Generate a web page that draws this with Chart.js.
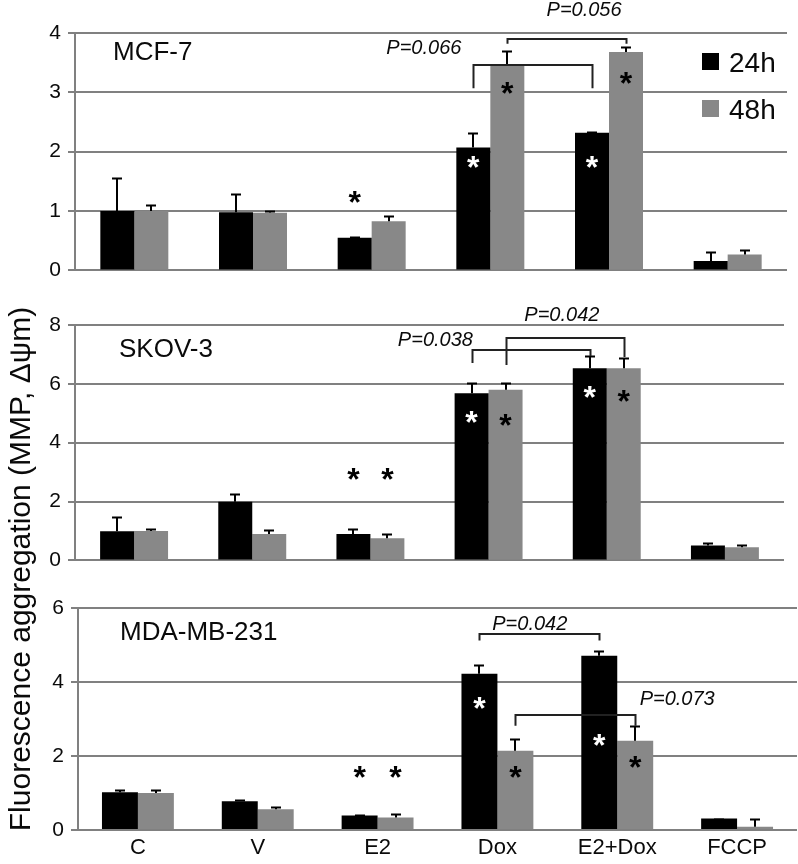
<!DOCTYPE html>
<html>
<head>
<meta charset="utf-8">
<script src="https://cdn.jsdelivr.net/npm/chart.js@4.4.1/dist/chart.umd.min.js"></script>
<style>
  html, body { margin: 0; padding: 0; background: #fff; }
  #wrap { position: relative; width: 798px; height: 864px; overflow: hidden; }
  canvas { position: absolute; left: 0; }
  #ytitle {
    position: absolute; left: -280px; top: 552px; width: 600px; height: 34px;
    line-height: 34px; text-align: center; transform: rotate(-90deg);
    font: 30px "Liberation Sans", Arial, sans-serif; color: #0a0a0a; white-space: nowrap;
  }
</style>
</head>
<body>
<div id="wrap">
  <canvas id="c1" width="798" height="290" style="top:0px"></canvas>
  <canvas id="c2" width="798" height="290" style="top:290px"></canvas>
  <canvas id="c3" width="798" height="284" style="top:580px"></canvas>
  <div id="ytitle">Fluorescence aggregation (MMP, Δψm)</div>
</div>
<script>
// categorias e séries
const categorias = ['C', 'V', 'E2', 'Dox', 'E2+Dox', 'FCCP'];
const series = ['24h', '48h'];

// MCF-7
const mcf7_24h = [1.00, 0.98, 0.55, 2.07, 2.32, 0.16];
const mcf7_24hErr = [1.55, 1.29, 0.57, 2.32, 2.33, 0.31];
const mcf7_48h = [1.00, 0.97, 0.83, 3.47, 3.68, 0.27];
const mcf7_48hErr = [1.11, 1.00, 0.91, 3.69, 3.76, 0.34];

// SKOV-3
const skov3_24h = [0.99, 1.99, 0.90, 5.68, 6.53, 0.51];
const skov3_24hErr = [1.47, 2.25, 1.07, 6.02, 6.93, 0.60];
const skov3_48h = [1.00, 0.90, 0.75, 5.80, 6.53, 0.45];
const skov3_48hErr = [1.07, 1.03, 0.90, 6.02, 6.87, 0.53];

// MDA-MB-231
const mda_24h = [1.02, 0.78, 0.39, 4.22, 4.71, 0.31];
const mda_24hErr = [1.08, 0.82, 0.40, 4.45, 4.83, 0.31];
const mda_48h = [1.00, 0.56, 0.34, 2.14, 2.41, 0.09];
const mda_48hErr = [1.08, 0.61, 0.42, 2.45, 2.81, 0.29];

// ticks
const ticksMcf7 = [0, 1, 2, 3, 4];
const ticksSkov3 = [0, 2, 4, 6, 8];
const ticksMda = [0, 2, 4, 6];

// asteriscos: [categoria, série, altura, cor]
const starsMcf7 = [[2, 0, 1.23, 'k'], [3, 0, 1.82, 'w'], [3, 1, 3.07, 'k'], [4, 0, 1.82, 'w'], [4, 1, 3.25, 'k']];
const starsSkov3 = [[2, 0, 2.92, 'k'], [2, 1, 2.92, 'k'], [3, 0, 4.88, 'w'], [3, 1, 4.78, 'k'], [4, 0, 5.73, 'w'], [4, 1, 5.59, 'k']];
const starsMda = [[2, 0, 1.58, 'k'], [2, 1, 1.58, 'k'], [3, 0, 3.42, 'w'], [3, 1, 1.58, 'k'], [4, 0, 2.43, 'w'], [4, 1, 1.85, 'k']];

// comparações (P): de [cat, série], até [cat, série], topo, pernas
const pMcf7 = [
  { text: 'P=0.066', from: [3, 0], to: [4, 0], top: 3.455, legL: 3.07, legR: 3.07, at: [2.44, 3.77] },
  { text: 'P=0.056', from: [3, 1], to: [4, 1], top: 3.90, legL: 3.82, legR: 3.82, at: [3.79, 4.40] }
];
const pSkov3 = [
  { text: 'P=0.038', from: [3, 0], to: [4, 0], top: 7.15, legL: 6.71, legR: 6.95, at: [2.55, 7.53] },
  { text: 'P=0.042', from: [3, 1], to: [4, 1], top: 7.57, legL: 6.64, legR: 6.91, at: [3.62, 8.37] }
];
const pMda = [
  { text: 'P=0.042', from: [3, 0], to: [4, 0], top: 5.29, legL: 5.12, legR: 5.12, at: [3.27, 5.59] },
  { text: 'P=0.073', from: [3, 1], to: [4, 1], top: 3.11, legL: 2.82, legR: 2.82, at: [4.50, 3.57] }
];

const FONT = '"Liberation Sans", Arial, sans-serif';
Chart.defaults.font.family = FONT;
Chart.defaults.color = '#0a0a0a';

const corPreto = '#000000';
const corCinza = '#888888';
const corGrade = '#808080';

// erros, asteriscos, colchetes, título e legenda
const anotacoes = {
  id: 'anotacoes',
  afterDatasetsDraw(chart, args, o) {
    const ctx = chart.ctx;
    const ys = chart.scales.y, xs = chart.scales.x;
    const barX = (c, d) => chart.getDatasetMeta(d).data[c].x;
    ctx.save();

    // barras de erro
    ctx.strokeStyle = '#000';
    ctx.lineWidth = 2;
    o.errors.forEach((errs, d) => {
      errs.forEach((e, i) => {
        const x0 = Math.round(barX(i, d));
        const yTop = ys.getPixelForValue(chart.data.datasets[d].data[i]);
        const yErr = Math.round(ys.getPixelForValue(e)) + 0.5;
        ctx.beginPath();
        ctx.moveTo(x0, yTop);
        ctx.lineTo(x0, yErr);
        ctx.moveTo(x0 - 5, yErr);
        ctx.lineTo(x0 + 5, yErr);
        ctx.stroke();
      });
    });

    // colchetes
    ctx.strokeStyle = '#222';
    ctx.lineWidth = 2;
    o.pvals.forEach(p => {
      const xl = Math.round(barX(p.from[0], p.from[1])) + 0.5;
      const xr = Math.round(barX(p.to[0], p.to[1])) + 0.5;
      const yt = Math.round(ys.getPixelForValue(p.top));
      ctx.beginPath();
      ctx.moveTo(xl, ys.getPixelForValue(p.legL));
      ctx.lineTo(xl, yt);
      ctx.lineTo(xr, yt);
      ctx.lineTo(xr, ys.getPixelForValue(p.legR));
      ctx.stroke();
    });
    ctx.fillStyle = '#0a0a0a';
    ctx.font = 'italic 20px ' + FONT;
    ctx.textAlign = 'center';
    ctx.textBaseline = 'alphabetic';
    o.pvals.forEach(p => {
      ctx.fillText(p.text, xs.getPixelForValue(p.at[0]), ys.getPixelForValue(p.at[1]) + 7);
    });

    // asteriscos
    ctx.font = 'bold 32px ' + FONT;
    const m = ctx.measureText('*');
    const meio = (m.actualBoundingBoxAscent - m.actualBoundingBoxDescent) / 2;
    o.stars.forEach(s => {
      ctx.fillStyle = s[3] === 'w' ? '#fff' : '#000';
      ctx.fillText('*', barX(s[0], s[1]), ys.getPixelForValue(s[2]) + meio);
    });

    // título do painel
    ctx.fillStyle = '#0a0a0a';
    ctx.font = '26px ' + FONT;
    ctx.textAlign = 'left';
    ctx.fillText(o.title, o.titlePos[0], o.titlePos[1]);

    // legenda
    if (o.legend) {
      ctx.font = '28px ' + FONT;
      chart.data.datasets.forEach((ds, i) => {
        const yy = 53 + i * 47;
        ctx.fillStyle = ds.backgroundColor;
        ctx.fillRect(702, yy, 17, 17);
        ctx.fillStyle = '#0a0a0a';
        ctx.fillText(ds.label, 729, yy + 19);
      });
    }
    ctx.restore();
  }
};

function painel(id, d24, d48, e24, e48, ticks, stars, pvals, title, titlePos, box, legend) {
  const ctx = document.getElementById(id).getContext('2d');
  return new Chart(ctx, {
    type: 'bar',
    data: {
      labels: categorias,
      datasets: [
        { label: series[0], data: d24, backgroundColor: corPreto },
        { label: series[1], data: d48, backgroundColor: corCinza }
      ]
    },
    options: {
      responsive: false,
      animation: false,
      devicePixelRatio: 1,
      layout: { padding: { top: box.top, right: box.right, left: 0, bottom: 0 } },
      datasets: { bar: { categoryPercentage: box.pct, barPercentage: 1, borderWidth: 0 } },
      plugins: {
        legend: { display: false },
        tooltip: { enabled: false },
        anotacoes: { errors: [e24, e48], stars, pvals, title, titlePos, legend }
      },
      scales: {
        x: {
          grid: { display: false, drawTicks: false },
          border: { display: false },
          ticks: { display: box.xLabels, font: { size: 22 }, color: '#0a0a0a', padding: 5 },
          afterFit: s => { s.height = box.xh; }
        },
        y: {
          min: ticks[0],
          max: ticks[ticks.length - 1],
          afterBuildTicks: s => { s.ticks = ticks.map(v => ({ value: v })); },
          grid: { color: corGrade, lineWidth: 2, tickLength: 7 },
          border: { display: true, color: corGrade, width: 2 },
          ticks: { font: { size: 21 }, color: '#0a0a0a', padding: 7 },
          afterFit: s => { s.width = box.left; }
        }
      }
    },
    plugins: [anotacoes]
  });
}

painel('c1', mcf7_24h, mcf7_48h, mcf7_24hErr, mcf7_48hErr, ticksMcf7, starsMcf7, pMcf7,
  'MCF-7', [113, 60], { top: 33, right: 11, left: 75, xh: 16, pct: 0.573, xLabels: false }, true);
painel('c2', skov3_24h, skov3_48h, skov3_24hErr, skov3_48hErr, ticksSkov3, starsSkov3, pSkov3,
  'SKOV-3', [119, 67], { top: 35, right: 14, left: 75, xh: 19, pct: 0.575, xLabels: false }, false);
painel('c3', mda_24h, mda_48h, mda_24hErr, mda_48hErr, ticksMda, starsMda, pMda,
  'MDA-MB-231', [120, 60], { top: 28, right: 1, left: 78, xh: 34, pct: 0.6, xLabels: true }, false);
</script>
</body>
</html>
